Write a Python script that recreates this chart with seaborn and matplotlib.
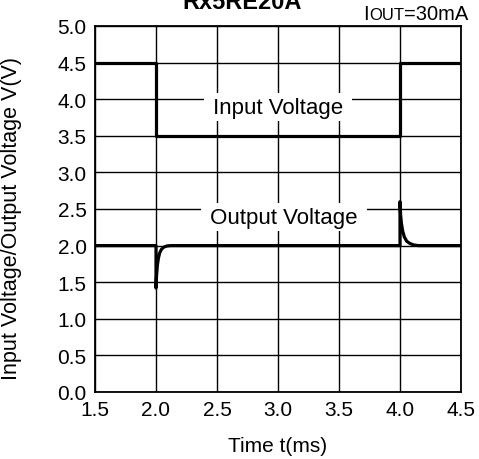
import pandas as pd
import matplotlib
matplotlib.use("Agg")
import matplotlib.pyplot as plt
import seaborn as sns

# input voltage step (ms, V)
t_in = [1.5, 2.0, 2.0, 4.0, 4.0, 4.5]
v_in = [4.5, 4.5, 3.5, 3.5, 4.5, 4.5]

# output voltage response (ms, V)
t_out = [1.5, 2.0, 2.0, 2.005, 2.012, 2.02, 2.03, 2.045, 2.065, 2.09, 2.12,
         4.0, 4.0, 4.005, 4.012, 4.022, 4.035, 4.055, 4.08, 4.11, 4.15, 4.5]
v_out = [2.0, 2.0, 1.42, 1.6, 1.74, 1.83, 1.9, 1.95, 1.98, 1.995, 2.0,
         2.0, 2.6, 2.42, 2.3, 2.2, 2.12, 2.06, 2.03, 2.01, 2.0, 2.0]

x_ticks = [1.5, 2.0, 2.5, 3.0, 3.5, 4.0, 4.5]
y_ticks = [0.0, 0.5, 1.0, 1.5, 2.0, 2.5, 3.0, 3.5, 4.0, 4.5, 5.0]

sns.set_theme(style="white")
plt.rcParams['font.family'] = ['Liberation Sans', 'DejaVu Sans']
plt.rcParams['text.color'] = 'black'
plt.rcParams['axes.labelcolor'] = 'black'

df_in = pd.DataFrame({'t': t_in, 'v': v_in})
df_out = pd.DataFrame({'t': t_out, 'v': v_out})

fig = plt.figure(figsize=(4.79, 4.60), dpi=100)
ax = fig.add_axes([95/479, 1-393/460, 366/479, 366/460])

sns.lineplot(data=df_in, x='t', y='v', sort=False, estimator=None,
             color='black', lw=2.3, ax=ax, zorder=3)
sns.lineplot(data=df_out, x='t', y='v', sort=False, estimator=None,
             color='black', lw=2.3, ax=ax, zorder=3)

ax.set_xlim(1.5, 4.5)
ax.set_ylim(0, 5)
ax.set_xticks(x_ticks)
ax.set_yticks(y_ticks)
ax.set_xticklabels([f"{x:.1f}" for x in x_ticks])
ax.set_yticklabels([f"{y:.1f}" for y in y_ticks])
ax.tick_params(length=0, labelsize=15, pad=6, colors='black')
ax.grid(True, color='black', lw=1.0)
for s in ax.spines.values():
    s.set_color('black')
    s.set_linewidth(1.3)

ax.set_xlabel('Time t(ms)', fontsize=15, labelpad=12)
ax.set_ylabel('Input Voltage/Output Voltage V(V)', fontsize=15.5)
ax.yaxis.set_label_coords(-0.2, 0.478)

box = dict(facecolor='white', edgecolor='none', boxstyle='square,pad=0.15')
ax.text(3.0, 3.89, ' Input Voltage ', fontsize=16, ha='center', va='center',
        bbox=box, zorder=2)
ax.text(3.05, 2.39, ' Output Voltage ', fontsize=16, ha='center', va='center',
        bbox=box, zorder=2)

fig.text(242/479, 1-9/460, 'Rx5RE20A', fontsize=17, fontweight='bold',
         ha='center', va='baseline')

# I_OUT=30mA, with the small-caps part placed piece by piece
t3 = fig.text(468/479, 1-20/460, '=30mA', fontsize=14.5, ha='right', va='baseline')
fig.canvas.draw()
r = fig.canvas.get_renderer()
x3 = t3.get_window_extent(r).x0
t2 = fig.text(x3/479, 1-20/460, 'OUT', fontsize=12, ha='right', va='baseline')
x2 = t2.get_window_extent(r).x0
fig.text(x2/479, 1-20/460, 'I', fontsize=14.5, ha='right', va='baseline')

fig.savefig('out.png', dpi=100)
